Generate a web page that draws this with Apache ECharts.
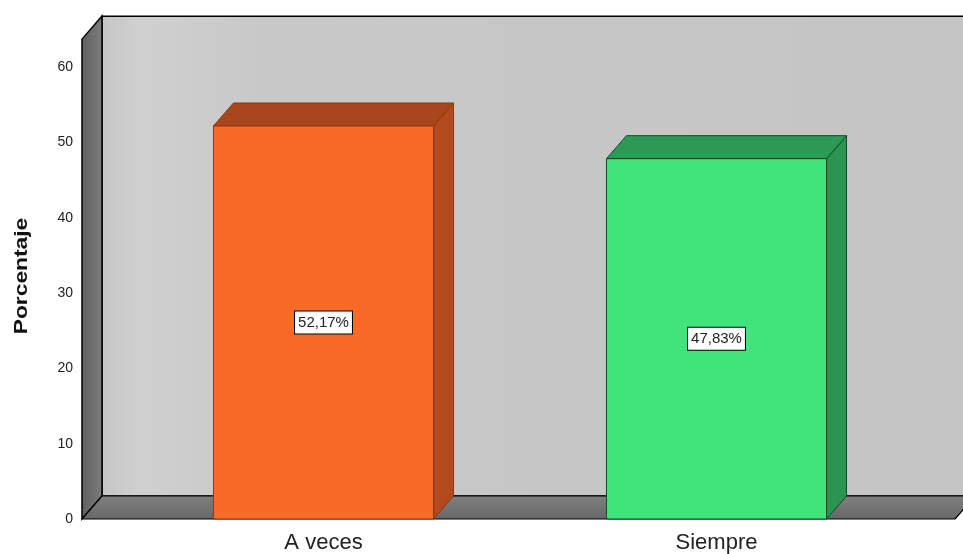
<!DOCTYPE html>
<html>
<head>
<meta charset="utf-8">
<script src="https://cdn.jsdelivr.net/npm/echarts@6/dist/echarts.min.js"></script>
<style>html,body{margin:0;padding:0;background:#fff}#c{width:963px;height:554px}</style>
</head>
<body>
<div id="c"></div>
<script>
const categories = ['A veces', 'Siempre'];
const values = [52.17, 47.83];
const valueLabels = ['52,17%', '47,83%'];
const yTicks = [0, 10, 20, 30, 40, 50, 60];
const yTitle = 'Porcentaje';
const wallTop = 63.7;

const frontColors = ['#f96a28', '#3fe57b'];
const topColors = ['#a9461b', '#2a9a55'];
const sideColors = ['#b24a1e', '#2b9452'];
const edgeColors = ['#8a3812', '#0f4a25'];
const DX = 20, DY = -23;
const FONT = '"Liberation Sans", Arial, sans-serif';

function renderWalls(params, api) {
  const cs = params.coordSys;
  const yt = api.coord([0, wallTop])[1];
  const yb = api.coord([0, 0])[1];
  const xl = cs.x - 45;
  const xr = cs.x + cs.width + 42;
  return {
    type: 'group',
    children: [
      { type: 'rect', shape: { x: xl + DX, y: yt + DY, width: 1000, height: yb - yt },
        style: { fill: new echarts.graphic.LinearGradient(0, 0, 1, 0, [
          { offset: 0, color: '#c6c6c6' }, { offset: 0.04, color: '#d0d0d0' },
          { offset: 0.16, color: '#c8c8c8' }, { offset: 1, color: '#c4c4c4' }]),
          stroke: '#000', lineWidth: 1.5 } },
      { type: 'polygon', shape: { points: [[xl, yt], [xl + DX, yt + DY], [xl + DX, yb + DY], [xl, yb]] },
        style: { fill: new echarts.graphic.LinearGradient(0, 0, 1, 0, [
          { offset: 0, color: '#5f5f5f' }, { offset: 1, color: '#7c7c7c' }]),
          stroke: '#000', lineWidth: 1.5 } },
      { type: 'polygon', shape: { points: [[xl, yb], [xl + DX, yb + DY], [xr + DX, yb + DY], [xr, yb]] },
        style: { fill: new echarts.graphic.LinearGradient(0, 0, 0, 1, [
          { offset: 0, color: '#808080' }, { offset: 1, color: '#676767' }]),
          stroke: '#000', lineWidth: 1.2, lineJoin: 'round' } }
    ]
  };
}

function renderBar(params, api) {
  const i = api.value(0);
  const v = api.value(1);
  const top = api.coord([i, v]);
  const base = api.coord([i, 0]);
  const mid = api.coord([i, v / 2]);
  const bw = api.size([1, 0])[0] * 0.56;
  const x0 = top[0] - bw / 2, x1 = top[0] + bw / 2;
  const yt = top[1], yb = base[1];
  return {
    type: 'group',
    children: [
      { type: 'polygon', shape: { points: [[x1, yt], [x1 + DX, yt + DY], [x1 + DX, yb + DY], [x1, yb]] },
        style: { fill: sideColors[i], stroke: edgeColors[i], lineWidth: 1 } },
      { type: 'polygon', shape: { points: [[x0, yt], [x0 + DX, yt + DY], [x1 + DX, yt + DY], [x1, yt]] },
        style: { fill: topColors[i], stroke: edgeColors[i], lineWidth: 1 } },
      { type: 'rect', shape: { x: x0, y: yt, width: bw, height: yb - yt },
        style: { fill: frontColors[i], stroke: edgeColors[i], lineWidth: 1 } },
      { type: 'text', x: mid[0], y: mid[1],
        style: { text: valueLabels[i], fill: '#222', font: '15px ' + FONT,
          align: 'center', verticalAlign: 'middle', backgroundColor: '#fff',
          borderColor: '#000', borderWidth: 1, padding: [4, 3, 3, 3] } }
    ]
  };
}

const chart = echarts.init(document.getElementById('c'), null, { renderer: 'canvas' });
chart.setOption({
  animation: false,
  backgroundColor: '#fff',
  grid: { left: 127, right: 50, top: 67, bottom: 35 },
  xAxis: {
    type: 'category', data: categories,
    axisLine: { show: false }, axisTick: { show: false }, splitLine: { show: false },
    axisLabel: { margin: 12, fontSize: 22, lineHeight: 23, color: '#222', fontFamily: FONT }
  },
  yAxis: {
    type: 'value', min: yTicks[0], max: yTicks[yTicks.length - 1], interval: 10,
    axisLine: { show: false }, axisTick: { show: false }, splitLine: { show: false },
    axisLabel: { margin: 54, fontSize: 14, color: '#222', fontFamily: FONT }
  },
  graphic: [{
    type: 'text', x: 22, y: 276, rotation: Math.PI / 2, scaleX: 1.2,
    style: { text: yTitle, font: 'bold 19px ' + FONT, fill: '#111', align: 'center', verticalAlign: 'middle' }
  }],
  series: [
    { type: 'custom', renderItem: renderWalls, data: [[0, wallTop]], z: 1, silent: true, clip: false },
    { type: 'custom', renderItem: renderBar, data: categories.map((c, i) => [i, values[i]]),
      encode: { x: 0, y: 1 }, z: 2, clip: false }
  ]
});
</script>
</body>
</html>
